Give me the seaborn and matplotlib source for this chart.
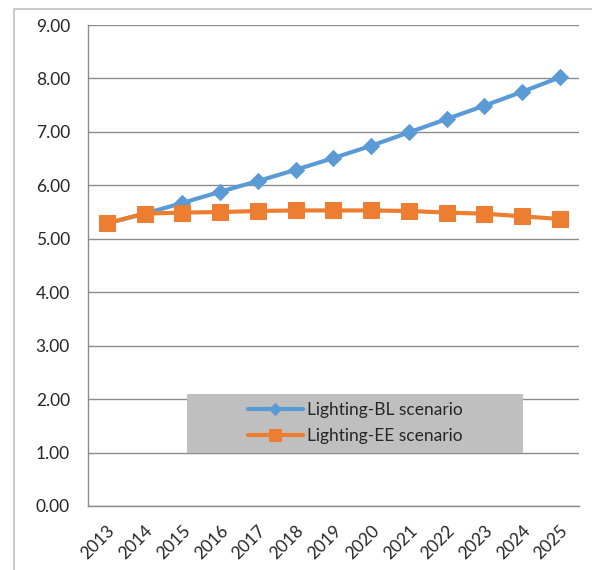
import matplotlib
matplotlib.use("Agg")
import matplotlib.pyplot as plt
from matplotlib.patches import Rectangle
from matplotlib.lines import Line2D
import seaborn as sns
import pandas as pd

years = [str(y) for y in range(2013, 2026)]
bl_values = [5.29, 5.47, 5.67, 5.88, 6.08, 6.29, 6.51, 6.74, 6.99, 7.24, 7.49, 7.75, 8.02]
ee_values = [5.29, 5.47, 5.49, 5.50, 5.52, 5.53, 5.53, 5.53, 5.52, 5.49, 5.47, 5.42, 5.37]
series_names = ["Lighting-BL scenario", "Lighting-EE scenario"]
y_ticks = [0, 1, 2, 3, 4, 5, 6, 7, 8, 9]

sns.set_theme(style="white")
plt.rcParams["font.family"] = ["Lato", "DejaVu Sans"]

blue = "#5B9BD5"
orange = "#ED7D31"
grid_c = "#8C8C8C"

df_bl = pd.DataFrame({"year": years, "value": bl_values})
df_ee = pd.DataFrame({"year": years, "value": ee_values})

fig = plt.figure(figsize=(5.92, 5.70), dpi=100)
ax = fig.add_axes([88 / 592, 1 - 506 / 570, (578.7 - 88) / 592, (506 - 25) / 570])

sns.lineplot(data=df_bl, x="year", y="value", ax=ax, color=blue, linewidth=3,
             marker="D", markersize=8, markeredgecolor=blue, label=series_names[0],
             zorder=3)
sns.lineplot(data=df_ee, x="year", y="value", ax=ax, color=orange, linewidth=3,
             marker="s", markersize=12, markeredgecolor=orange, label=series_names[1],
             zorder=4)

ax.set_xlim(-0.5, len(years) - 0.5)
ax.set_ylim(0, 9)
ax.set_yticks(y_ticks)
ax.set_yticklabels([f"{v:.2f}" for v in y_ticks])
ax.set_xticks(range(len(years)))
ax.set_xticklabels(years, rotation=45, ha="right", rotation_mode="anchor")
ax.set_xticks([i - 0.5 for i in range(len(years) + 1)], minor=True)
ax.tick_params(axis="x", which="major", length=0, pad=12, labelsize=12.5)
ax.tick_params(axis="x", which="minor", length=5, color=grid_c, width=1)
ax.tick_params(axis="y", length=6, color=grid_c, width=1, pad=7, labelsize=12.5)
ax.set_xlabel("")
ax.set_ylabel("")

ax.yaxis.grid(True, color=grid_c, linewidth=1)
ax.set_axisbelow(True)
for side in ["top", "right"]:
    ax.spines[side].set_visible(False)
for side in ["left", "bottom"]:
    ax.spines[side].set_color(grid_c)
    ax.spines[side].set_linewidth(1)

# grey legend panel
x0 = (187 - 88) / (578.7 - 88)
x1 = (523 - 88) / (578.7 - 88)
ax.add_patch(Rectangle((x0, 1.0 / 9), x1 - x0, 1.1 / 9, transform=ax.transAxes,
                       facecolor="#BFBFBF", edgecolor="none", zorder=5))
leg = ax.legend(loc="center", bbox_to_anchor=((x0 + x1) / 2, 1.55 / 9),
                frameon=False, fontsize=12.5, handlelength=3.2, handletextpad=0.2,
                labelspacing=0.55, markerscale=0.75)
leg.set_zorder(6)

# outer chart border
fig.add_artist(Line2D([14 / 592, 14 / 592, 1.01], [-0.01, 1 - 9 / 570, 1 - 9 / 570],
                      transform=fig.transFigure, color="#BFBFBF", linewidth=1.2))

fig.savefig("out.png", dpi=100)
